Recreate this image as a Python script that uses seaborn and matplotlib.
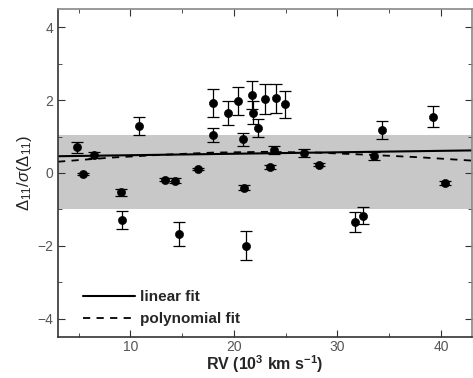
import numpy as np
import pandas as pd
import seaborn as sns
import matplotlib.pyplot as plt
from matplotlib.ticker import MultipleLocator

# data
rv = [4.84, 5.45, 6.5, 9.07, 9.17, 10.86, 13.3, 14.33, 14.65, 16.5, 17.93, 17.93,
      19.39, 20.35, 20.83, 21.0, 21.2, 21.75, 21.87, 22.32, 22.96, 23.5, 23.9,
      24.07, 24.9, 26.8, 28.2, 31.65, 32.5, 33.5, 34.3, 39.2, 40.4]
ratio = [0.70, -0.03, 0.49, -0.53, -1.28, 1.28, -0.18, -0.21, -1.67, 0.11, 1.92,
         1.04, 1.65, 1.97, 0.92, -0.40, -1.99, 2.14, 1.66, 1.23, 2.03, 0.16, 0.63,
         2.05, 1.88, 0.54, 0.23, -1.35, -1.17, 0.47, 1.18, 1.55, -0.28]
ratio_err = [0.15, 0.03, 0.09, 0.10, 0.25, 0.25, 0.04, 0.06, 0.33, 0.04, 0.38,
             0.20, 0.32, 0.38, 0.17, 0.08, 0.39, 0.39, 0.32, 0.24, 0.40, 0.05,
             0.10, 0.40, 0.37, 0.11, 0.05, 0.27, 0.24, 0.11, 0.24, 0.30, 0.06]

lin_x = [3, 43]
lin_y = [0.46, 0.62]
poly_x = [3, 8, 13, 18, 23, 28, 33, 38, 43]
poly_y = [0.31, 0.42, 0.50, 0.56, 0.58, 0.56, 0.50, 0.43, 0.34]

band = (-1.0, 1.05)

df = pd.DataFrame({"RV": rv, "R": ratio, "err": ratio_err})

sns.set_style("ticks")
plt.rcParams['font.family'] = ['Liberation Sans', 'DejaVu Sans']
plt.rcParams['mathtext.fontset'] = 'custom'
plt.rcParams['mathtext.rm'] = 'Liberation Sans'
plt.rcParams['mathtext.it'] = 'Liberation Sans:italic'
plt.rcParams['mathtext.bf'] = 'Liberation Sans:bold'

fig = plt.figure(figsize=(4.73, 3.78), dpi=100)
ax = fig.add_axes([58/473, 41/378, 414/473, 328/378])

ax.axhspan(band[0], band[1], color="#c8c8c8", lw=0, zorder=0)

sns.lineplot(x=lin_x, y=lin_y, ax=ax, color="black", lw=1.5, label="linear fit")
sns.lineplot(x=poly_x, y=poly_y, ax=ax, color="black", lw=1.3, ls=(0, (4, 3.5)),
             label="polynomial fit")

ax.errorbar(df["RV"], df["R"], yerr=df["err"], fmt="none", ecolor="black",
            elinewidth=0.9, capsize=4.5, capthick=0.9, zorder=3)
sns.scatterplot(data=df, x="RV", y="R", ax=ax, color="black", s=34,
                edgecolor="black", zorder=4)

ax.set_xlim(3, 43)
ax.set_ylim(-4.5, 4.5)
ax.xaxis.set_major_locator(MultipleLocator(10))
ax.xaxis.set_minor_locator(MultipleLocator(5))
ax.yaxis.set_major_locator(MultipleLocator(2))
ax.yaxis.set_minor_locator(MultipleLocator(1))
ax.tick_params(which="both", direction="in", top=True, right=True,
               labelsize=10, labelcolor="#555555", color="#333333")
ax.tick_params(which="major", length=5)
ax.tick_params(axis="x", which="major", pad=2)
ax.tick_params(which="minor", length=3)

for s in ax.spines.values():
    s.set_color("#888888")
    s.set_linewidth(1.2)
ax.spines["left"].set_color("#333333")
ax.spines["bottom"].set_color("#333333")

ax.set_xlabel("RV (10$^{\\mathbf{3}}$ km s$^{\\mathbf{-1}}$)", fontsize=11.5,
              fontweight="bold", labelpad=0)
ax.set_ylabel("$\\Delta_{11}$/$\\sigma$($\\Delta_{11}$)", fontsize=12, labelpad=2)

leg = ax.legend(loc="lower left", frameon=False, handlelength=3.4,
                prop={"weight": "bold", "size": 11}, borderaxespad=0.4,
                borderpad=0.3, labelspacing=0.55, handletextpad=0.3,
                bbox_to_anchor=(0.035, 0.0))

fig.savefig("out.png", dpi=100)
